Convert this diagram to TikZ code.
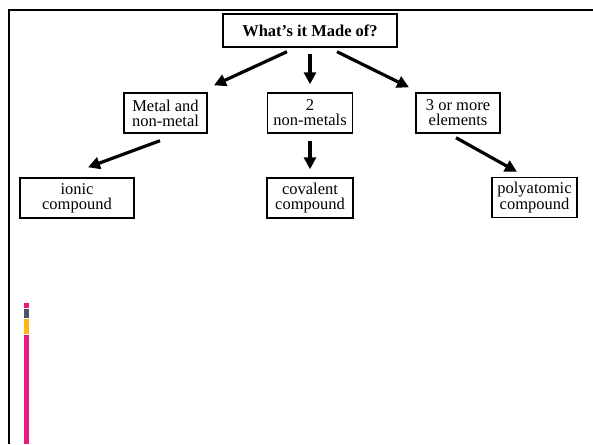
\documentclass[tikz,border=0pt]{standalone}
\usepackage{fontspec}
\setmainfont{Liberation Serif}
\usetikzlibrary{arrows.meta}
\definecolor{barpink}{HTML}{EC1A7C}
\definecolor{bargray}{HTML}{4B5467}
\definecolor{baryellow}{HTML}{FDB913}
\tikzset{
  box/.style={draw, line width=1.4pt, inner sep=0pt, minimum height=40pt, align=center,
    font=\fontsize{16.5}{15}\selectfont},
  arr/.style={line width=3.2pt, -{Triangle[length=12pt,width=12pt]}}
}
\begin{document}
\begin{tikzpicture}[x=1pt, y=-1pt]
\useasboundingbox (0,0) rectangle (593,444);
\draw [black, line width=2.5pt] (593,10) -- (9,10) -- (9,444);

\fill [barpink] (24,303) rectangle (29,308);
\fill [bargray] (24,309) rectangle (29,318);
\fill [baryellow] (24,319) rectangle (29,333.5);
\fill [barpink] (24,335) rectangle (29,444);

\node [box, minimum width=174pt, minimum height=33pt, font=\fontsize{16.5}{15}\selectfont\bfseries] (made) at (310,30.5) {What’s it Made of?};

\node [box, minimum width=83pt] (metal) at (165.5,113) {Metal and\\non-metal};
\node [box, minimum width=85pt] (two) at (310,113) {2\\non-metals};
\node [box, minimum width=84pt] (three) at (458,113) {3 or more\\elements};

\node [box, minimum width=114pt] (ionic) at (77,198) {ionic\\compound};
\node [box, minimum width=86pt] (covalent) at (310,198) {covalent\\compound};
\node [box, minimum width=85pt] (poly) at (534.5,197.5) {polyatomic\\compound};

\draw [arr] ([xshift=-23pt,yshift=-4pt]made.south) -- ([xshift=48.5pt,yshift=7pt]metal.north);
\draw [arr] ([yshift=-6pt]made.south) -- ([yshift=8pt]two.north);
\draw [arr] ([xshift=27pt,yshift=-4pt]made.south) -- ([xshift=-49pt,yshift=5pt]three.north);

\draw [arr] ([xshift=-5.5pt,yshift=-7pt]metal.south) -- ([xshift=11pt,yshift=10pt]ionic.north);
\draw [arr] ([yshift=-7pt]two.south) -- ([yshift=8pt]covalent.north);
\draw [arr] ([xshift=-2pt,yshift=-4pt]three.south) -- ([xshift=-17.5pt,yshift=5pt]poly.north);
\end{tikzpicture}
\end{document}
